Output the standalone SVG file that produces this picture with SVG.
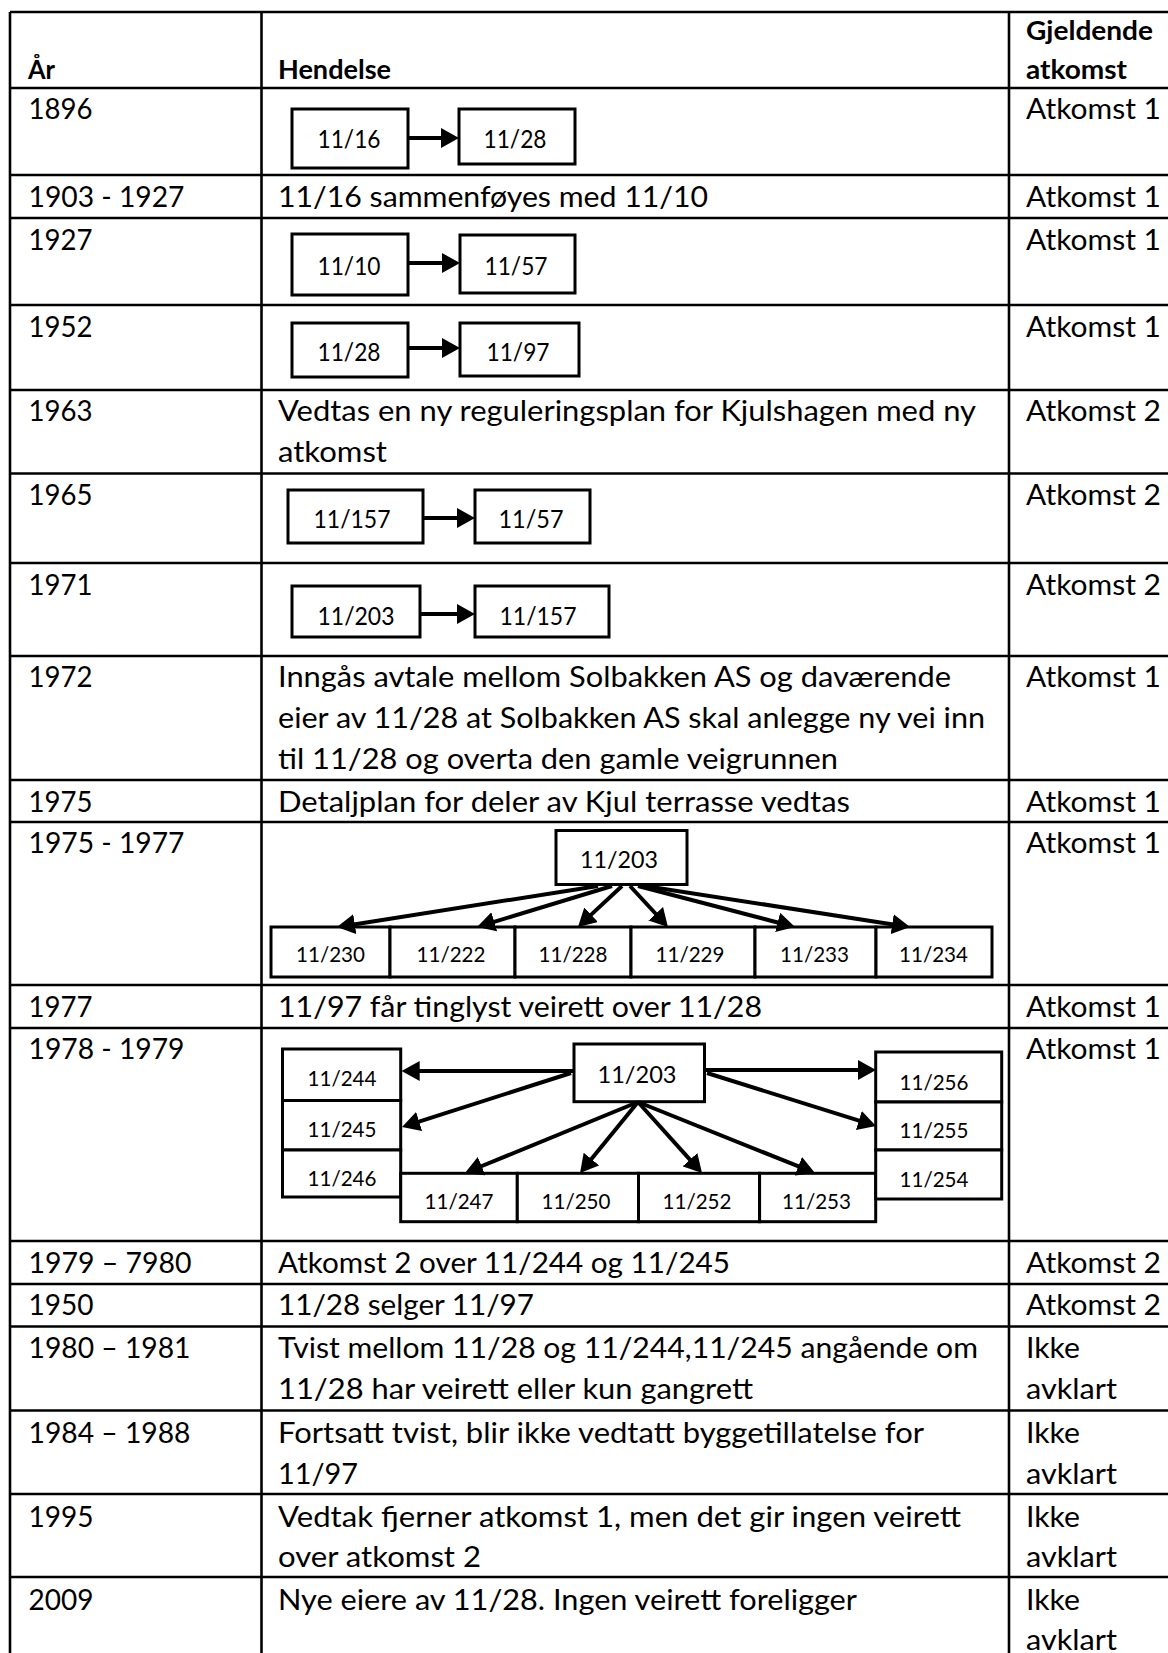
<svg xmlns="http://www.w3.org/2000/svg" width="1168" height="1653" viewBox="0 0 1168 1653">
<style>
.t{font-family:Lato,"Liberation Sans",sans-serif;font-size:29px;fill:#000}
.h{font-weight:bold;font-size:26px}
.bl{font-family:Lato,"Liberation Sans",sans-serif;font-size:25px;fill:#000;text-anchor:middle}
.ml{font-size:23px}
.sl{font-size:22px}
.grid line{stroke:#000;stroke-width:2.6}
.box{fill:#fff;stroke:#000;stroke-width:3}
.conn line{stroke:#000;stroke-width:4}
</style>
<defs>
<marker id="ah" markerUnits="userSpaceOnUse" markerWidth="18" markerHeight="20" viewBox="0 0 18 20" refX="1" refY="10" orient="auto"><path d="M0,0L18,10L0,20z" fill="#000"/></marker>
</defs>
<rect x="0" y="0" width="1168" height="1653" fill="#fff"/>
<g id="table" class="grid">
<line x1="10" y1="12" x2="1168" y2="12"/>
<line x1="10" y1="88" x2="1168" y2="88"/>
<line x1="10" y1="175" x2="1168" y2="175"/>
<line x1="10" y1="218" x2="1168" y2="218"/>
<line x1="10" y1="305" x2="1168" y2="305"/>
<line x1="10" y1="390" x2="1168" y2="390"/>
<line x1="10" y1="473.5" x2="1168" y2="473.5"/>
<line x1="10" y1="563" x2="1168" y2="563"/>
<line x1="10" y1="656" x2="1168" y2="656"/>
<line x1="10" y1="780" x2="1168" y2="780"/>
<line x1="10" y1="822" x2="1168" y2="822"/>
<line x1="10" y1="985" x2="1168" y2="985"/>
<line x1="10" y1="1028" x2="1168" y2="1028"/>
<line x1="10" y1="1241" x2="1168" y2="1241"/>
<line x1="10" y1="1284" x2="1168" y2="1284"/>
<line x1="10" y1="1326.5" x2="1168" y2="1326.5"/>
<line x1="10" y1="1410.5" x2="1168" y2="1410.5"/>
<line x1="10" y1="1494" x2="1168" y2="1494"/>
<line x1="10" y1="1577" x2="1168" y2="1577"/>
<line x1="10" y1="12" x2="10" y2="1653"/>
<line x1="261.5" y1="12" x2="261.5" y2="1653"/>
<line x1="1009" y1="12" x2="1009" y2="1653"/>
</g>
<g id="row-header">
<text class="t h" x="28" y="79" textLength="27" lengthAdjust="spacingAndGlyphs">År</text>
<text class="t h" x="278" y="79" textLength="113" lengthAdjust="spacingAndGlyphs">Hendelse</text>
<text class="t h" x="1026" y="40" textLength="127" lengthAdjust="spacingAndGlyphs">Gjeldende</text>
<text class="t h" x="1026" y="79" textLength="101" lengthAdjust="spacingAndGlyphs">atkomst</text>
</g>
<g id="row-1896">
<text class="t" x="28.5" y="119" textLength="64" lengthAdjust="spacingAndGlyphs">1896</text>
<text class="t" x="1026" y="119" textLength="135" lengthAdjust="spacingAndGlyphs">Atkomst 1</text>
</g>
<g id="row-1903">
<text class="t" x="28.5" y="207" textLength="156" lengthAdjust="spacingAndGlyphs">1903 - 1927</text>
<text class="t" x="278" y="207" textLength="430" lengthAdjust="spacingAndGlyphs">11/16 sammenføyes med 11/10</text>
<text class="t" x="1026" y="207" textLength="135" lengthAdjust="spacingAndGlyphs">Atkomst 1</text>
</g>
<g id="row-1927">
<text class="t" x="28.5" y="250" textLength="64" lengthAdjust="spacingAndGlyphs">1927</text>
<text class="t" x="1026" y="250" textLength="135" lengthAdjust="spacingAndGlyphs">Atkomst 1</text>
</g>
<g id="row-1952">
<text class="t" x="28.5" y="337" textLength="64" lengthAdjust="spacingAndGlyphs">1952</text>
<text class="t" x="1026" y="337" textLength="135" lengthAdjust="spacingAndGlyphs">Atkomst 1</text>
</g>
<g id="row-1963">
<text class="t" x="28.5" y="421" textLength="64" lengthAdjust="spacingAndGlyphs">1963</text>
<text class="t" x="278" y="421" textLength="698" lengthAdjust="spacingAndGlyphs">Vedtas en ny reguleringsplan for Kjulshagen med ny</text>
<text class="t" x="278" y="462" textLength="109" lengthAdjust="spacingAndGlyphs">atkomst</text>
<text class="t" x="1026" y="421" textLength="135" lengthAdjust="spacingAndGlyphs">Atkomst 2</text>
</g>
<g id="row-1965">
<text class="t" x="28.5" y="505" textLength="64" lengthAdjust="spacingAndGlyphs">1965</text>
<text class="t" x="1026" y="505" textLength="135" lengthAdjust="spacingAndGlyphs">Atkomst 2</text>
</g>
<g id="row-1971">
<text class="t" x="28.5" y="595" textLength="64" lengthAdjust="spacingAndGlyphs">1971</text>
<text class="t" x="1026" y="595" textLength="135" lengthAdjust="spacingAndGlyphs">Atkomst 2</text>
</g>
<g id="row-1972">
<text class="t" x="28.5" y="687" textLength="64" lengthAdjust="spacingAndGlyphs">1972</text>
<text class="t" x="278" y="687" textLength="673" lengthAdjust="spacingAndGlyphs">Inngås avtale mellom Solbakken AS og daværende</text>
<text class="t" x="278" y="728" textLength="707" lengthAdjust="spacingAndGlyphs">eier av 11/28 at Solbakken AS skal anlegge ny vei inn</text>
<text class="t" x="278" y="769" textLength="560" lengthAdjust="spacingAndGlyphs">til 11/28 og overta den gamle veigrunnen</text>
<text class="t" x="1026" y="687" textLength="135" lengthAdjust="spacingAndGlyphs">Atkomst 1</text>
</g>
<g id="row-1975">
<text class="t" x="28.5" y="812" textLength="64" lengthAdjust="spacingAndGlyphs">1975</text>
<text class="t" x="278" y="812" textLength="572" lengthAdjust="spacingAndGlyphs">Detaljplan for deler av Kjul terrasse vedtas</text>
<text class="t" x="1026" y="812" textLength="135" lengthAdjust="spacingAndGlyphs">Atkomst 1</text>
</g>
<g id="row-1975-1977">
<text class="t" x="28.5" y="853" textLength="156" lengthAdjust="spacingAndGlyphs">1975 - 1977</text>
<text class="t" x="1026" y="853" textLength="135" lengthAdjust="spacingAndGlyphs">Atkomst 1</text>
</g>
<g id="row-1977">
<text class="t" x="28.5" y="1017" textLength="64" lengthAdjust="spacingAndGlyphs">1977</text>
<text class="t" x="278" y="1017" textLength="484" lengthAdjust="spacingAndGlyphs">11/97 får tinglyst veirett over 11/28</text>
<text class="t" x="1026" y="1017" textLength="135" lengthAdjust="spacingAndGlyphs">Atkomst 1</text>
</g>
<g id="row-1978-1979">
<text class="t" x="28.5" y="1059" textLength="156" lengthAdjust="spacingAndGlyphs">1978 - 1979</text>
<text class="t" x="1026" y="1059" textLength="135" lengthAdjust="spacingAndGlyphs">Atkomst 1</text>
</g>
<g id="row-1979-7980">
<text class="t" x="28.5" y="1273" textLength="163" lengthAdjust="spacingAndGlyphs">1979 – 7980</text>
<text class="t" x="278" y="1273" textLength="452" lengthAdjust="spacingAndGlyphs">Atkomst 2 over 11/244 og 11/245</text>
<text class="t" x="1026" y="1273" textLength="135" lengthAdjust="spacingAndGlyphs">Atkomst 2</text>
</g>
<g id="row-1950">
<text class="t" x="28.5" y="1315" textLength="65" lengthAdjust="spacingAndGlyphs">1950</text>
<text class="t" x="278" y="1315" textLength="256" lengthAdjust="spacingAndGlyphs">11/28 selger 11/97</text>
<text class="t" x="1026" y="1315" textLength="135" lengthAdjust="spacingAndGlyphs">Atkomst 2</text>
</g>
<g id="row-1980-1981">
<text class="t" x="28.5" y="1358" textLength="162" lengthAdjust="spacingAndGlyphs">1980 – 1981</text>
<text class="t" x="278" y="1358" textLength="700" lengthAdjust="spacingAndGlyphs">Tvist mellom 11/28 og 11/244,11/245 angående om</text>
<text class="t" x="278" y="1399" textLength="475" lengthAdjust="spacingAndGlyphs">11/28 har veirett eller kun gangrett</text>
<text class="t" x="1026" y="1358" textLength="54" lengthAdjust="spacingAndGlyphs">Ikke</text>
<text class="t" x="1026" y="1399" textLength="91" lengthAdjust="spacingAndGlyphs">avklart</text>
</g>
<g id="row-1984-1988">
<text class="t" x="28.5" y="1443" textLength="162" lengthAdjust="spacingAndGlyphs">1984 – 1988</text>
<text class="t" x="278" y="1443" textLength="646" lengthAdjust="spacingAndGlyphs">Fortsatt tvist, blir ikke vedtatt byggetillatelse for</text>
<text class="t" x="278" y="1484" textLength="80" lengthAdjust="spacingAndGlyphs">11/97</text>
<text class="t" x="1026" y="1443" textLength="54" lengthAdjust="spacingAndGlyphs">Ikke</text>
<text class="t" x="1026" y="1484" textLength="91" lengthAdjust="spacingAndGlyphs">avklart</text>
</g>
<g id="row-1995">
<text class="t" x="28.5" y="1527" textLength="65" lengthAdjust="spacingAndGlyphs">1995</text>
<text class="t" x="278" y="1527" textLength="683" lengthAdjust="spacingAndGlyphs">Vedtak fjerner atkomst 1, men det gir ingen veirett</text>
<text class="t" x="278" y="1567" textLength="203" lengthAdjust="spacingAndGlyphs">over atkomst 2</text>
<text class="t" x="1026" y="1527" textLength="54" lengthAdjust="spacingAndGlyphs">Ikke</text>
<text class="t" x="1026" y="1567" textLength="91" lengthAdjust="spacingAndGlyphs">avklart</text>
</g>
<g id="row-2009">
<text class="t" x="28.5" y="1610" textLength="65" lengthAdjust="spacingAndGlyphs">2009</text>
<text class="t" x="278" y="1610" textLength="579" lengthAdjust="spacingAndGlyphs">Nye eiere av 11/28. Ingen veirett foreligger</text>
<text class="t" x="1026" y="1610" textLength="54" lengthAdjust="spacingAndGlyphs">Ikke</text>
<text class="t" x="1026" y="1650" textLength="91" lengthAdjust="spacingAndGlyphs">avklart</text>
</g>

<g id="n1896-1116"><rect class="box" x="292" y="109" width="116" height="59"/><text class="bl" x="349" y="148" textLength="63" lengthAdjust="spacingAndGlyphs">11/16</text></g>
<g id="n1896-1128"><rect class="box" x="459" y="109" width="116" height="55"/><text class="bl" x="515" y="148" textLength="63" lengthAdjust="spacingAndGlyphs">11/28</text></g>
<g id="n1927-1110"><rect class="box" x="292" y="234" width="116" height="61"/><text class="bl" x="349" y="275" textLength="63" lengthAdjust="spacingAndGlyphs">11/10</text></g>
<g id="n1927-1157"><rect class="box" x="460" y="235" width="115" height="58"/><text class="bl" x="516" y="275" textLength="63" lengthAdjust="spacingAndGlyphs">11/57</text></g>
<g id="n1952-1128"><rect class="box" x="292" y="323" width="116" height="54"/><text class="bl" x="349" y="361" textLength="63" lengthAdjust="spacingAndGlyphs">11/28</text></g>
<g id="n1952-1197"><rect class="box" x="460" y="323" width="119" height="53"/><text class="bl" x="518" y="361" textLength="63" lengthAdjust="spacingAndGlyphs">11/97</text></g>
<g id="n1965-11157"><rect class="box" x="288" y="490" width="135" height="53"/><text class="bl" x="352" y="528" textLength="77" lengthAdjust="spacingAndGlyphs">11/157</text></g>
<g id="n1965-1157"><rect class="box" x="475" y="490" width="115" height="53"/><text class="bl" x="531" y="528" textLength="65" lengthAdjust="spacingAndGlyphs">11/57</text></g>
<g id="n1971-11203"><rect class="box" x="292" y="586" width="128" height="51"/><text class="bl" x="356" y="625" textLength="77" lengthAdjust="spacingAndGlyphs">11/203</text></g>
<g id="n1971-11157"><rect class="box" x="475" y="586" width="134" height="51"/><text class="bl" x="538" y="625" textLength="77" lengthAdjust="spacingAndGlyphs">11/157</text></g>

<g id="n1975-11203"><rect class="box" x="556" y="830.5" width="131" height="54"/><text class="bl ml" x="619" y="868" textLength="78" lengthAdjust="spacingAndGlyphs">11/203</text></g>
<g id="n1975-11230"><rect class="box" x="271" y="927" width="119" height="50"/><text class="bl sl" x="330.5" y="962" textLength="69" lengthAdjust="spacingAndGlyphs">11/230</text></g>
<g id="n1975-11222"><rect class="box" x="390" y="927" width="125" height="50"/><text class="bl sl" x="451" y="962" textLength="69" lengthAdjust="spacingAndGlyphs">11/222</text></g>
<g id="n1975-11228"><rect class="box" x="515" y="927" width="116" height="50"/><text class="bl sl" x="573" y="962" textLength="69" lengthAdjust="spacingAndGlyphs">11/228</text></g>
<g id="n1975-11229"><rect class="box" x="631" y="927" width="124" height="50"/><text class="bl sl" x="690" y="962" textLength="69" lengthAdjust="spacingAndGlyphs">11/229</text></g>
<g id="n1975-11233"><rect class="box" x="755" y="927" width="121" height="50"/><text class="bl sl" x="814.5" y="962" textLength="69" lengthAdjust="spacingAndGlyphs">11/233</text></g>
<g id="n1975-11234"><rect class="box" x="876" y="927" width="116" height="50"/><text class="bl sl" x="933.5" y="962" textLength="69" lengthAdjust="spacingAndGlyphs">11/234</text></g>

<g id="n1978-11203"><rect class="box" x="574" y="1044" width="130.5" height="57.7"/><text class="bl ml" x="637" y="1083" textLength="79" lengthAdjust="spacingAndGlyphs">11/203</text></g>
<g id="n1978-11244"><rect class="box" x="282.5" y="1049" width="118.2" height="51.5"/><text class="bl sl" x="342" y="1086" textLength="69" lengthAdjust="spacingAndGlyphs">11/244</text></g>
<g id="n1978-11245"><rect class="box" x="282.5" y="1100.5" width="118.2" height="49.5"/><text class="bl sl" x="342" y="1137" textLength="69" lengthAdjust="spacingAndGlyphs">11/245</text></g>
<g id="n1978-11246"><rect class="box" x="282.5" y="1150" width="118.2" height="47"/><text class="bl sl" x="342" y="1186" textLength="69" lengthAdjust="spacingAndGlyphs">11/246</text></g>
<g id="n1978-11247"><rect class="box" x="400.7" y="1173.3" width="116.6" height="48.4"/><text class="bl sl" x="459" y="1209" textLength="69" lengthAdjust="spacingAndGlyphs">11/247</text></g>
<g id="n1978-11250"><rect class="box" x="517.3" y="1173.3" width="121.2" height="48.4"/><text class="bl sl" x="576" y="1209" textLength="69" lengthAdjust="spacingAndGlyphs">11/250</text></g>
<g id="n1978-11252"><rect class="box" x="638.5" y="1173.3" width="121.1" height="48.4"/><text class="bl sl" x="697" y="1209" textLength="69" lengthAdjust="spacingAndGlyphs">11/252</text></g>
<g id="n1978-11253"><rect class="box" x="759.6" y="1173.3" width="116.1" height="48.4"/><text class="bl sl" x="816.5" y="1209" textLength="69" lengthAdjust="spacingAndGlyphs">11/253</text></g>
<g id="n1978-11256"><rect class="box" x="875.7" y="1052" width="126" height="50"/><text class="bl sl" x="934" y="1090" textLength="69" lengthAdjust="spacingAndGlyphs">11/256</text></g>
<g id="n1978-11255"><rect class="box" x="875.7" y="1102" width="126" height="48"/><text class="bl sl" x="934" y="1138" textLength="69" lengthAdjust="spacingAndGlyphs">11/255</text></g>
<g id="n1978-11254"><rect class="box" x="875.7" y="1150" width="126" height="49"/><text class="bl sl" x="934" y="1187" textLength="69" lengthAdjust="spacingAndGlyphs">11/254</text></g>

<g id="connectors" class="conn">
<line x1="408" y1="138" x2="442" y2="138" marker-end="url(#ah)"/>
<line x1="408" y1="263" x2="443" y2="263" marker-end="url(#ah)"/>
<line x1="408" y1="348" x2="443" y2="348" marker-end="url(#ah)"/>
<line x1="423" y1="518" x2="458" y2="518" marker-end="url(#ah)"/>
<line x1="420" y1="614" x2="458" y2="614" marker-end="url(#ah)"/>
<line x1="598" y1="886" x2="353.8" y2="924.4" marker-end="url(#ah)"/>
<line x1="612" y1="886" x2="493.3" y2="922.1" marker-end="url(#ah)"/>
<line x1="622" y1="886" x2="590.4" y2="915.4" marker-end="url(#ah)"/>
<line x1="630" y1="886" x2="656.4" y2="914.5" marker-end="url(#ah)"/>
<line x1="638" y1="886" x2="778.6" y2="922.7" marker-end="url(#ah)"/>
<line x1="645" y1="886" x2="893.2" y2="924.4" marker-end="url(#ah)"/>
<line x1="574" y1="1071" x2="418.7" y2="1071" marker-end="url(#ah)"/>
<line x1="704.5" y1="1070" x2="859" y2="1070" marker-end="url(#ah)"/>
<line x1="571" y1="1073" x2="418.2" y2="1121.8" marker-end="url(#ah)"/>
<line x1="707" y1="1073" x2="859.8" y2="1120.9" marker-end="url(#ah)"/>
<line x1="638" y1="1102" x2="480.7" y2="1166.5" marker-end="url(#ah)"/>
<line x1="638" y1="1102" x2="590.8" y2="1159.8" marker-end="url(#ah)"/>
<line x1="638" y1="1102" x2="690.6" y2="1160.4" marker-end="url(#ah)"/>
<line x1="638" y1="1102" x2="799.2" y2="1166.7" marker-end="url(#ah)"/>
</g>
</svg>
